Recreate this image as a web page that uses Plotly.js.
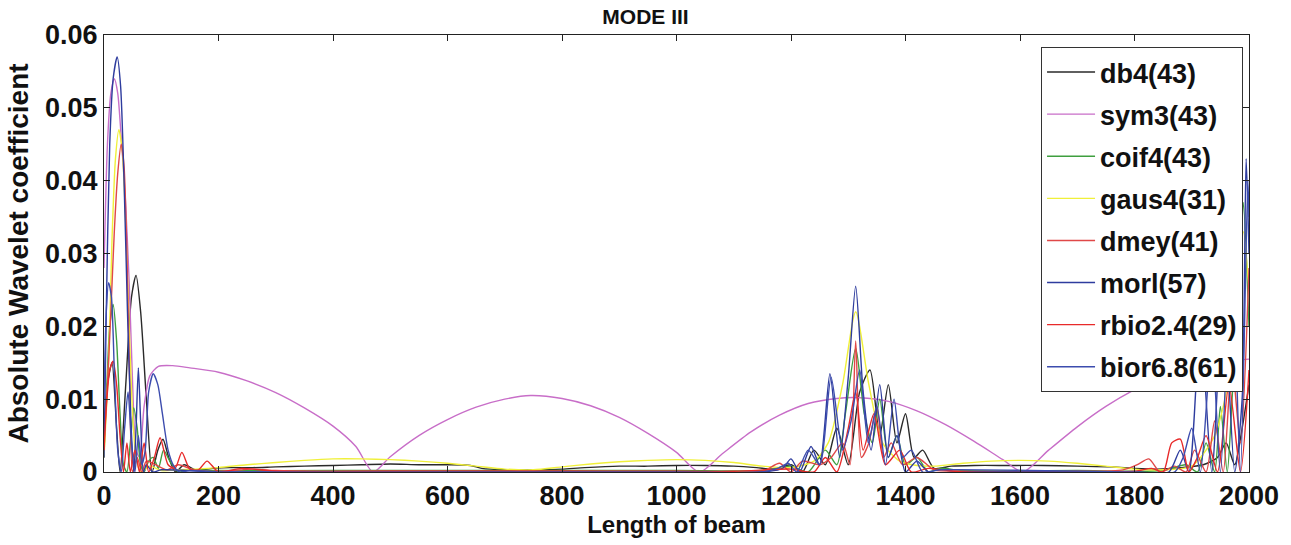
<!DOCTYPE html>
<html>
<head>
<meta charset="utf-8">
<script src="https://cdn.plot.ly/plotly-3.0.1.min.js"></script>
<style>html,body{margin:0;padding:0;background:#fff;}#chart{width:1291px;height:545px;}</style>
</head>
<body>
<div id="chart"></div>
<script>
// ---- data ----
const seriesNames = ["db4(43)","sym3(43)","coif4(43)","gaus4(31)","dmey(41)","morl(57)","rbio2.4(29)","bior6.8(61)"];

const x_db4 = [0,6,14,22,28,38,48,56,64,74,84,94,103,113,125,140,160,190,220,260,300,350,400,450,500,550,600,640,660,700,760,800,840,900,950,1000,1050,1100,1140,1170,1200,1220,1240,1260,1280,1300,1320,1338,1355,1370,1385,1400,1415,1430,1450,1480,1520,1580,1640,1700,1760,1800,1840,1880,1920,1945,1960,1975,1988,2000];
const y_db4 = [0.002,0.012,0.015,0.006,0,0.012,0.024,0.027,0.022,0.01,0,0.003,0.0045,0.002,0,0.001,0.0003,0.0005,0.0006,0.0006,0.0007,0.0008,0.0009,0.001,0.0011,0.001,0.001,0.0009,0.0005,0.0003,0.0003,0.0004,0.0006,0.0008,0.0008,0.0009,0.0009,0.0008,0.0006,0.0004,0.001,0,0.003,0.001,0.006,0.001,0.011,0.014,0.005,0.012,0.004,0.008,0.002,0.003,0.0005,0.0008,0.0009,0.0009,0.0009,0.0008,0.0007,0.0005,0.0004,0.0006,0.001,0.002,0.004,0.001,0.006,0.012];

const x_sym3 = [0,6,12,18,24,30,37,44,50,56,62,70,80,95,120,150,200,250,300,350,400,440,470,500,550,600,650,700,745,800,850,900,950,1000,1040,1080,1130,1180,1230,1280,1320,1370,1420,1470,1520,1570,1605,1650,1700,1750,1800,1850,1900,1950,2000];
const y_sym3 = [0.028,0.045,0.052,0.054,0.052,0.046,0.038,0.026,0.012,0.003,0.002,0.009,0.0132,0.0145,0.0146,0.0143,0.0137,0.0125,0.0109,0.0088,0.0063,0.0035,0,0.0021,0.005,0.0072,0.0089,0.01,0.0105,0.0101,0.0091,0.0075,0.0053,0.0027,0,0.0025,0.0055,0.0078,0.0094,0.0101,0.0102,0.0097,0.0084,0.0065,0.0042,0.0017,0,0.003,0.0062,0.009,0.0113,0.0132,0.0146,0.0152,0.0155];

const x_coif4 = [0,5,10,16,22,28,34,40,46,52,58,64,70,78,86,95,104,115,130,150,200,400,600,800,1000,1150,1200,1230,1260,1280,1295,1313,1328,1342,1355,1370,1385,1400,1420,1440,1460,1500,1700,1850,1890,1910,1925,1940,1950,1962,1972,1982,1990,2000];
const y_coif4 = [0.004,0.012,0.02,0.023,0.018,0.008,0.001,0,0.004,0.0088,0.006,0.001,0,0.0015,0.002,0.0005,0.003,0.0015,0,0.0003,0.0002,0.0002,0.0002,0.0002,0.0002,0.0002,0.0008,0,0.003,0.001,0.008,0.017,0.008,0.004,0.01,0.002,0.005,0.001,0.002,0,0.0005,0.0002,0.0002,0.0002,0.001,0,0.004,0,0.009,0,0.012,0.02,0.037,0.02];

const x_gaus4 = [0,8,14,20,26,32,38,44,50,56,64,80,100,130,160,200,250,300,350,400,450,500,550,600,650,700,750,800,850,900,950,1000,1050,1100,1150,1200,1240,1265,1290,1313,1336,1360,1390,1420,1450,1500,1550,1600,1650,1700,1750,1800,1850,1900,1940,1970,1990,2000];
const y_gaus4 = [0.002,0.015,0.032,0.043,0.047,0.044,0.034,0.02,0.008,0.002,0,0.0008,0.0002,0.0003,0.0004,0.0006,0.001,0.0013,0.0016,0.0018,0.0018,0.0017,0.0015,0.0012,0.0008,0.0004,0.0003,0.0007,0.0011,0.0014,0.0016,0.0017,0.0016,0.0013,0.0008,0.0006,0.0015,0.004,0.012,0.022,0.012,0.004,0.0015,0.0009,0.0008,0.0012,0.0015,0.0016,0.0015,0.0012,0.0008,0.0004,0.0003,0.0008,0.005,0.015,0.033,0.025];

const x_dmey = [0,6,12,18,24,30,35,40,45,50,58,66,74,90,110,130,160,200,260,300,400,600,800,1000,1150,1180,1200,1220,1250,1270,1290,1303,1313,1323,1336,1350,1362,1375,1395,1420,1450,1500,1700,1780,1805,1825,1845,1870,1890,1905,1925,1940,1955,1970,1985,2000];
const y_dmey = [0.004,0.012,0.022,0.033,0.041,0.045,0.042,0.03,0.012,0,0.002,0,0.0015,0.001,0.0003,0.001,0.0002,0.0001,0.0004,0.0002,0.0001,0.0001,0.0001,0.0001,0.0001,0.0012,0,0.0015,0.001,0.002,0.004,0.001,0.018,0.002,0.004,0.009,0.002,0.004,0.001,0.002,0.0003,0.0001,0.0001,0.0003,0.001,0.0018,0,0.0008,0,0.003,0,0.007,0,0.015,0.004,0.028];

const x_morl = [0,4,10,16,23,29,35,41,47,52,56,60,64,69,74,85,100,200,600,1000,1150,1185,1200,1215,1235,1250,1268,1285,1300,1313,1326,1340,1355,1370,1385,1400,1420,1440,1500,1800,1860,1880,1895,1915,1935,1955,1975,1988,1995,2000];
const y_morl = [0.002,0.022,0.045,0.054,0.057,0.053,0.04,0.022,0.007,0,0.006,0.0143,0.007,0,0.001,0,0.0003,0,0,0,0,0.0005,0.0018,0,0.0035,0.001,0.0135,0.002,0.013,0.0255,0.011,0.003,0.012,0.002,0.005,0,0.0015,0,0,0,0,0.003,0,0.02,0,0.025,0,0.01,0.043,0.03];

const x_rbio = [0,5,10,16,22,28,34,40,46,54,62,70,78,88,98,112,124,136,150,165,180,200,240,300,500,800,1100,1200,1240,1260,1280,1300,1313,1326,1345,1365,1390,1410,1440,1500,1800,1830,1850,1865,1880,1895,1910,1925,1945,1965,1985,2000];
const y_rbio = [0.003,0.01,0.014,0.0152,0.012,0.005,0,0.004,0,0.003,0,0.004,0,0.002,0.0047,0.001,0.0005,0.0027,0.0004,0.0003,0.0015,0,0.0005,0.0001,0.0001,0.0001,0.0001,0.0004,0,0.002,0,0.006,0.011,0.003,0.008,0.001,0.003,0,0.0005,0,0.0001,0.0005,0,0.004,0.0045,0,0.002,0.005,0,0.012,0,0.014];

const x_bior = [0,4,8,13,18,24,30,36,42,48,54,60,66,72,78,86,94,102,112,122,132,150,200,600,1000,1150,1180,1195,1210,1230,1250,1270,1290,1305,1320,1335,1350,1365,1380,1395,1410,1430,1460,1800,1870,1885,1900,1915,1935,1950,1970,1985,1998,2000];
const y_bior = [0.01,0.022,0.026,0.024,0.014,0.003,0,0.006,0.011,0.004,0,0.005,0.001,0.003,0.011,0.0135,0.012,0.008,0.003,0.0008,0,0.0002,0,0,0,0,0.0006,0.0012,0,0.003,0.001,0.013,0.003,0.007,0.014,0.004,0.009,0.001,0.01,0.002,0.003,0,0.0003,0,0,0.002,0.006,0,0.018,0,0.03,0,0.04,0.035];

const xTickVals = [0,200,400,600,800,1000,1200,1400,1600,1800,2000];
const yTickVals = [0,0.01,0.02,0.03,0.04,0.05,0.06];
const yTickText = ["0","0.01","0.02","0.03","0.04","0.05","0.06"];

// ---- styling ----
const colors = ["#2a2a2a","#c86ec8","#3f9f3f","#f0f03a","#e04848","#2e3c9e","#e82a2a","#3c4cae"];
const xs = [x_db4,x_sym3,x_coif4,x_gaus4,x_dmey,x_morl,x_rbio,x_bior];
const ys = [y_db4,y_sym3,y_coif4,y_gaus4,y_dmey,y_morl,y_rbio,y_bior];

const fam = "'Liberation Sans',Arial,sans-serif";
const traces = seriesNames.map((n,i)=>({
  x: xs[i], y: ys[i], name: n, type: 'scatter', mode: 'lines', legendgroup: 'g' + i,
  line: {color: colors[i], width: 1.4, shape: 'spline', smoothing: 0.7}
}));

const layout = {
  width: 1291, height: 545,
  margin: {l: 104, r: 42, t: 35, b: 73},
  paper_bgcolor: '#fff', plot_bgcolor: '#fff',
  showlegend: true,
  title: {text: 'MODE III', x: 0.5, xanchor: 'center', y: 0.97, yanchor: 'middle',
          font: {family: fam, size: 21, color: '#111', weight: 'bold'}},
  xaxis: {
    range: [0, 2000], tickvals: xTickVals, ticks: 'inside', ticklen: 6, tickcolor: '#222',
    showline: true, linecolor: '#222', linewidth: 1, mirror: 'ticks', showgrid: false, zeroline: false,
    tickfont: {family: fam, size: 27, color: '#111', weight: 'bold'},
    title: {text: 'Length of beam', standoff: 4, font: {family: fam, size: 24, color: '#111', weight: 'bold'}}
  },
  yaxis: {
    range: [0, 0.06], tickvals: yTickVals, ticktext: yTickText, ticks: 'inside', ticklen: 6, tickcolor: '#222',
    showline: true, linecolor: '#222', linewidth: 1, mirror: 'ticks', showgrid: false, zeroline: false,
    tickfont: {family: fam, size: 27, color: '#111', weight: 'bold'},
    title: {text: 'Absolute Wavelet coefficient', standoff: 8, font: {family: fam, size: 28, color: '#111', weight: 'bold'}}
  },
  legend: {
    x: 0.9948, xanchor: 'right', y: 0.9725, yanchor: 'top',
    bgcolor: '#fff', bordercolor: '#333', borderwidth: 1,
    font: {family: fam, size: 27, color: '#111', weight: 'bold'},
    tracegroupgap: 4, itemwidth: 48
  }
};

Plotly.newPlot('chart', traces, layout, {displayModeBar: false, staticPlot: true});
</script>
</body>
</html>
